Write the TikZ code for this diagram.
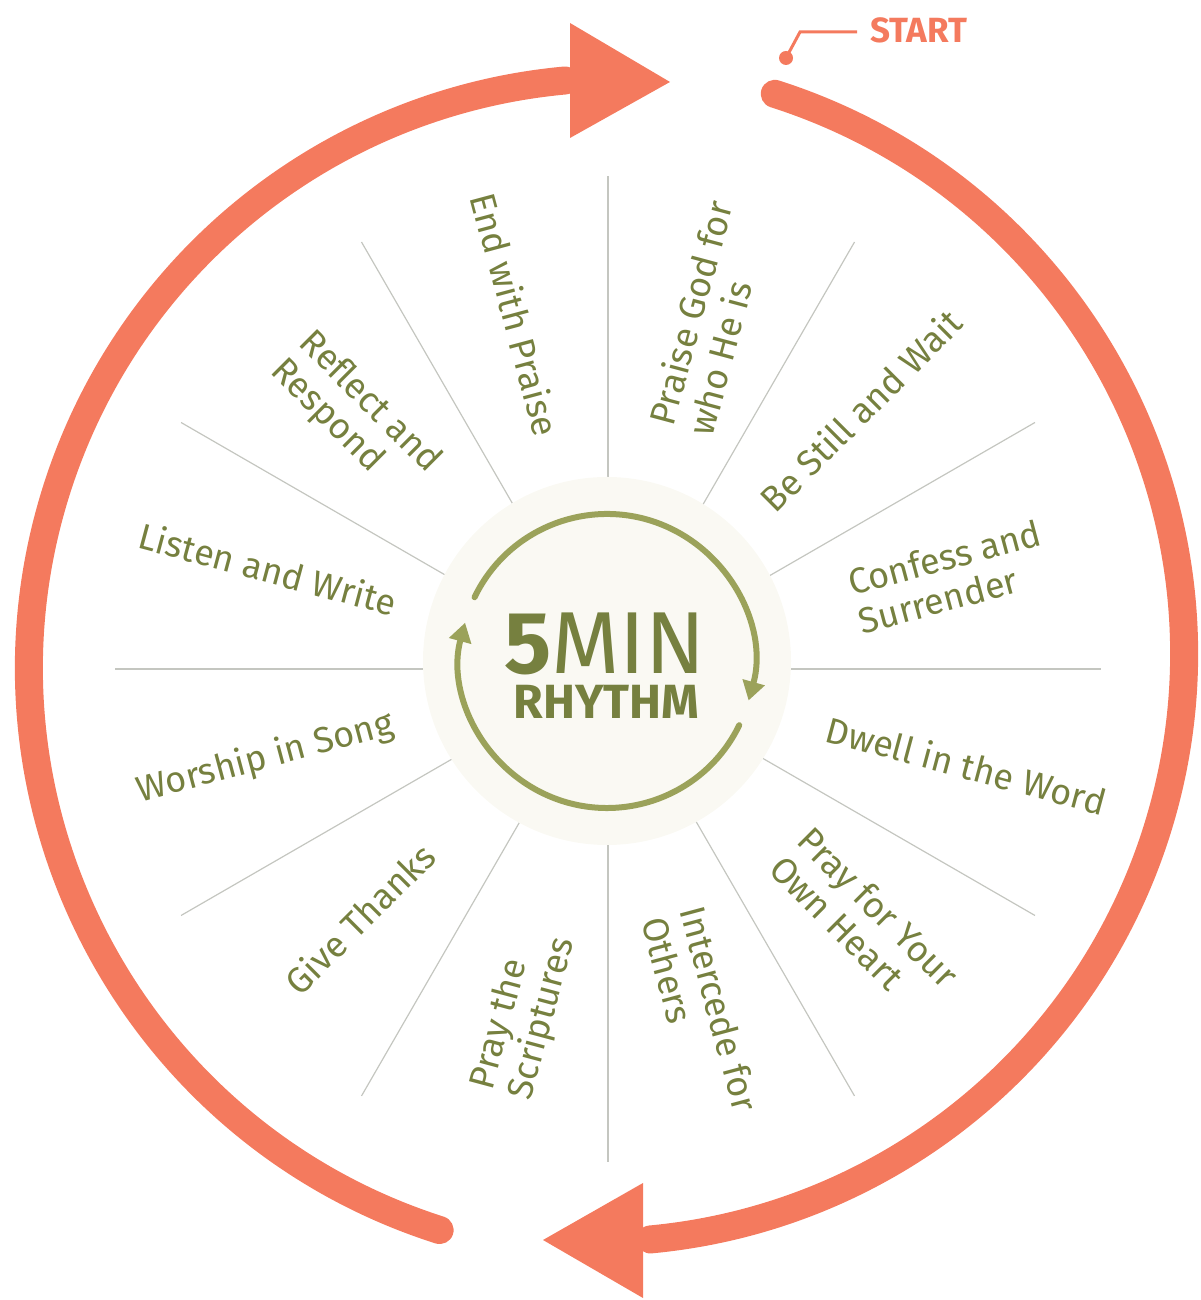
\documentclass[tikz,border=0pt]{standalone}
\usepackage{fontspec}
\setmainfont{Fira Sans}
\usetikzlibrary{arrows.meta,calc}
\definecolor{coral}{HTML}{F47A5E}
\definecolor{olive}{HTML}{76803F}
\definecolor{ringgreen}{HTML}{9BA25A}
\definecolor{cream}{HTML}{FAF9F3}
\definecolor{spokegray}{HTML}{C4C6C0}
\begin{document}
\begin{tikzpicture}[x=1pt,y=1pt,
  lbl/.style={text=olive, font=\fontsize{36}{40}\selectfont, align=left, anchor=center, inner sep=0pt},
  spoke/.style={draw=spokegray, line width=1.2pt},
  bigarc/.style={draw=coral, line width=28pt, line cap=round},
  headtri/.style={fill=coral},
  ring/.style={draw=ringgreen, line width=6pt, line cap=round, -{Triangle[length=19pt,width=22pt]}}]
\useasboundingbox (0,0) rectangle (1200,1300);
\coordinate (O) at (608,631);
\coordinate (C) at (607,639);
\coordinate (R0) at (596,646);
\coordinate (L0) at (619,632);
% spokes
\foreach \a in {0,30,...,330} \draw[spoke] (O) -- ($(O)+(\a:493)$);
% central disk
\fill[cream] (C) circle[radius=184];
% green ring arrows
\draw[ring] ($(C)+(154.3:147)$) arc[start angle=154.3, end angle=-15.6, radius=147];
\draw[ring] ($(C)+(-25.9:147)$) arc[start angle=-25.9, end angle=-195.1, radius=147];
% centre text
\node[anchor=base, text=olive, inner sep=0pt] (fivemin) at (605,626) {\fontsize{88}{88}\selectfont\textbf{5}MIN};
\node[anchor=base, text=olive, inner sep=0pt] (rhythm) at (606.5,581) {\fontsize{48}{48}\selectfont\bfseries RHYTHM};
% labels
\node[lbl, rotate=75] (praise) at ($(O)+(75:357)+(9,6)$) {Praise God for\\who He is};
\node[lbl, rotate=45] (still) at ($(O)+(45:357)+(0,6)$) {Be Still and Wait};
\node[lbl, rotate=15] (confess) at ($(O)+(15:357)+(-3,0)$) {Confess and\\Surrender};
\node[lbl, rotate=-15] (dwell) at ($(O)+(-15:371)$) {Dwell in the Word};
\node[lbl, rotate=-45] (heart) at ($(O)+(-45:357)+(4,0)$) {Pray for Your\\Own Heart};
\node[lbl, rotate=-75] (intercede) at ($(O)+(-75:357)$) {Intercede for\\Others};
\node[lbl, rotate=75] (scriptures) at ($(O)+(-105:357)+(8,0)$) {Pray the\\Scriptures};
\node[lbl, rotate=45] (thanks) at ($(O)+(-135:357)+(4,3)$) {Give Thanks};
\node[lbl, rotate=15] (song) at ($(O)+(-165:357)+(2,3)$) {Worship in Song};
\node[lbl, rotate=-15] (listen) at ($(O)+(165:357)+(5,8)$) {Listen and Write};
\node[lbl, rotate=-45] (reflect) at ($(O)+(135:357)$) {Reflect and\\Respond};
\node[lbl, rotate=-75] (endp) at ($(O)+(105:357)+(0,10)$) {End with Praise};
% big orange arrows
\draw[bigarc] ($(R0)+(72.3:588)$) arc[start angle=72.3, end angle=-84.7, radius=588];
\fill[headtri] (643,117) -- (543,60) -- (643,2) -- cycle;
\draw[bigarc] ($(L0)+(252.3:590)$) arc[start angle=252.3, end angle=95.25, radius=590];
\fill[headtri] (570,1277) -- (670,1218) -- (570,1162) -- cycle;
% start marker
\node[anchor=base west, text=coral, font=\fontsize{35}{35}\selectfont\bfseries, inner sep=0pt] (start) at (870,1257) {START};
\coordinate (dot) at (786,1242);
\coordinate (kink) at (800,1268);
\coordinate (lineend) at (857,1268);
\fill[coral] (dot) circle[radius=7];
\draw[coral, line width=3pt] (dot) -- (kink) -- (lineend);
\end{tikzpicture}
\end{document}
